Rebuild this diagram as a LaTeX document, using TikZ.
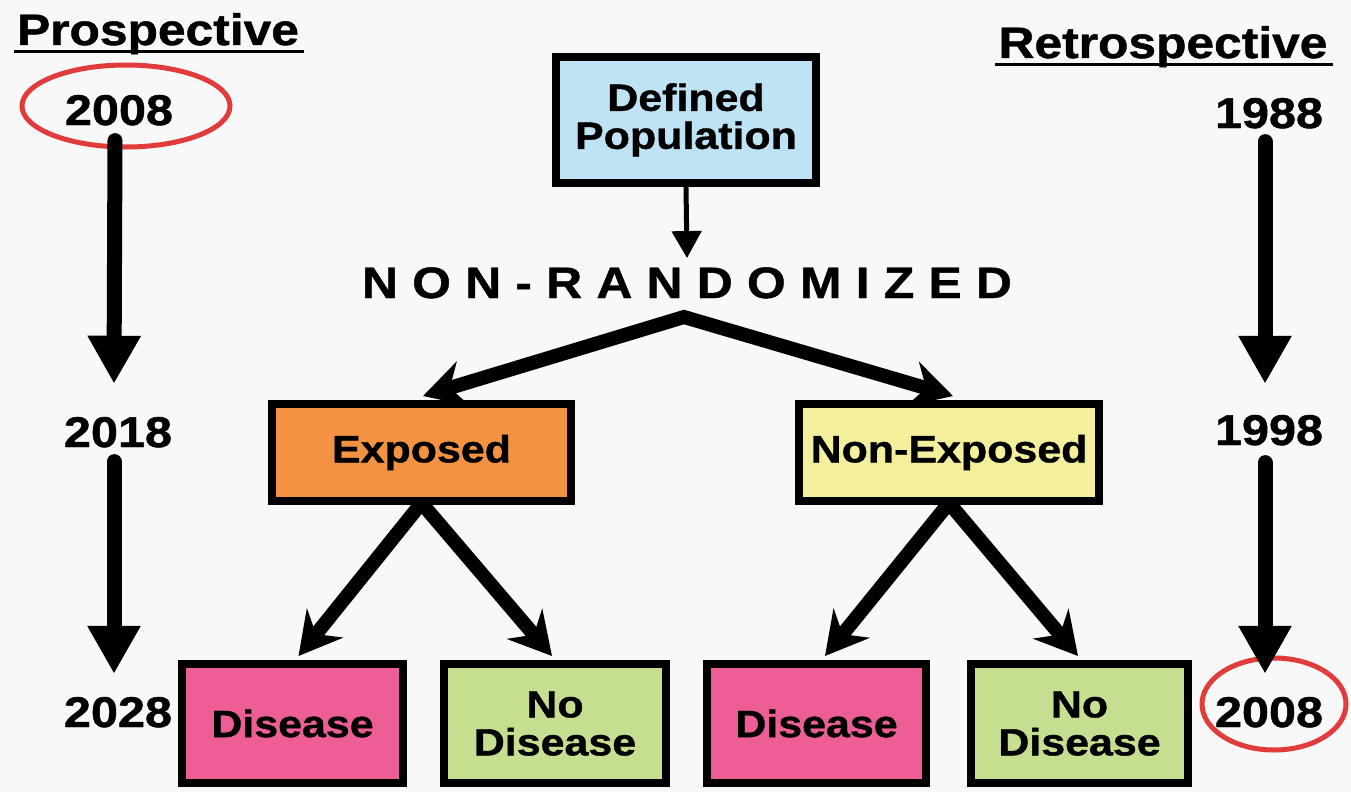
\documentclass[tikz,border=0pt]{standalone}
\usepackage{fontspec}
\setmainfont{Liberation Sans}[FakeStretch=1.13, BoldFeatures={FakeBold=1}]
\usetikzlibrary{arrows.meta}

\definecolor{paper}{HTML}{F8F8F8}
\definecolor{popblue}{HTML}{BEE3F4}
\definecolor{exporange}{HTML}{F39240}
\definecolor{nexpyellow}{HTML}{F4EF9C}
\definecolor{dispink}{HTML}{EE5E96}
\definecolor{nodisgreen}{HTML}{C6DE90}
\definecolor{ringred}{HTML}{E23B3B}

% letter spacing for the spaced-out caption
\newcommand\lsp{\kern14.3pt}

\begin{document}
\begin{tikzpicture}[x=1pt,y=-1pt,
  box/.style={draw=black, line width=8pt, inner sep=0pt, align=center,
    font=\fontsize{38}{38}\selectfont\bfseries},
  yearlabel/.style={inner sep=0pt, anchor=base, font=\fontsize{43}{43}\selectfont\bfseries},
  heading/.style={inner sep=0pt, anchor=base, font=\fontsize{44}{44}\selectfont\bfseries},
  timeline/.style={line width=15pt, line cap=round, -{Triangle[width=50pt,length=48pt]}},
  branch/.style={line width=14pt, -{Stealth[width=46pt,length=42pt,inset=14pt]}},
  fork/.style={line width=14pt, line join=miter,
    {Stealth[width=46pt,length=42pt,inset=14pt]}-{Stealth[width=46pt,length=42pt,inset=14pt]}},
  thinarrow/.style={line width=5pt, -{Triangle[width=29pt,length=27pt]}},
  ring/.style={draw=ringred, line width=5pt},
]
\fill[paper] (0,0) rectangle (1351,792);
\useasboundingbox (0,0) rectangle (1351,792);

% red rings around the present year
\draw[ring] (126,106) ellipse [x radius=104, y radius=41];
\draw[ring] (1274,704) ellipse [x radius=72, y radius=46];

% headings
\node[heading] (prosp) at (158,45) {Prospective};
\node[heading] (retro) at (1163,58) {Retrospective};
\draw[line width=3pt] ([xshift=-3pt,yshift=-7pt]prosp.base west) -- ([xshift=5pt,yshift=-7pt]prosp.base east);
\draw[line width=3pt] ([xshift=-3pt,yshift=-7pt]retro.base west) -- ([xshift=5pt,yshift=-7pt]retro.base east);

% years, prospective side
\node[yearlabel] (pa) at (119,125) {2008};
\node[yearlabel] (pb) at (118,447) {2018};
\node[yearlabel] (pc) at (118,727) {2028};
% years, retrospective side
\node[yearlabel] (ra) at (1269,128) {1988};
\node[yearlabel] (rb) at (1269,445) {1998};
\node[yearlabel] (rc) at (1269,727) {2008};

% boxes
\node[box, fill=popblue, minimum width=260pt, minimum height=126pt] (pop) at (686,120) {Defined\\Population};
\node[heading] (nonrand) at (687,298)
  {N\lsp O\lsp N\lsp -\lsp R\lsp A\lsp N\lsp D\lsp O\lsp M\lsp I\lsp Z\lsp E\lsp D};
\node[box, fill=exporange, minimum width=299pt, minimum height=97pt] (exp) at (421.5,452.5) {Exposed};
\node[box, fill=nexpyellow, minimum width=300pt, minimum height=97pt] (nexp) at (949,452.5) {Non-Exposed};
\node[box, fill=dispink, minimum width=221pt, minimum height=119pt] (dis1) at (292.5,723.5) {Disease};
\node[box, fill=nodisgreen, minimum width=222pt, minimum height=119pt] (nod1) at (555,723.5) {No\\Disease};
\node[box, fill=dispink, minimum width=219pt, minimum height=119pt] (dis2) at (816.5,723.5) {Disease};
\node[box, fill=nodisgreen, minimum width=217pt, minimum height=119pt] (nod2) at (1079.5,723.5) {No\\Disease};

% time arrows
\draw[timeline] ([xshift=-4pt,yshift=-15pt]pa.south) -- ([xshift=-4pt,yshift=33pt]pb.north);
\draw[timeline] ([xshift=-4pt,yshift=-14pt]pb.south) -- ([xshift=-4pt,yshift=23pt]pc.north);
\draw[timeline] ([xshift=-4pt,yshift=-13pt]ra.south) -- ([xshift=-4pt,yshift=31pt]rb.north);
\draw[timeline] ([xshift=-4pt,yshift=-17pt]rb.south) -- ([xshift=-4pt,yshift=23pt]rc.north);

% flow arrows
\draw[thinarrow] (pop.south) -- ([yshift=9pt]nonrand.north);
\coordinate (split) at ([xshift=-3pt,yshift=-19pt]nonrand.base);
\draw[fork] ([xshift=1.5pt,yshift=4pt]exp.north) -- (split) -- ([xshift=4pt,yshift=4pt]nexp.north);
\draw[branch] ([yshift=2pt]exp.south) -- ([xshift=6pt,yshift=4pt]dis1.north);
\draw[branch] ([yshift=2pt]exp.south) -- ([xshift=-3pt,yshift=4pt]nod1.north);
\draw[branch] ([yshift=2pt]nexp.south) -- ([xshift=8.5pt,yshift=4pt]dis2.north);
\draw[branch] ([yshift=2pt]nexp.south) -- ([xshift=-1.5pt,yshift=4pt]nod2.north);
\end{tikzpicture}
\end{document}
